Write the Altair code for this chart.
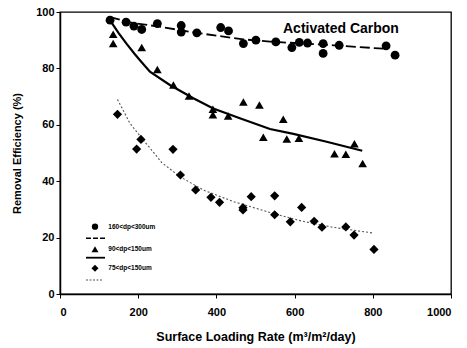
import altair as alt
import pandas as pd

# ---- data ----
c_x = [128, 169, 189, 209, 249, 310, 310, 350, 411, 431, 469, 501, 552, 593, 612, 633, 673, 673, 714, 834, 857]
c_y = [97.1, 96.4, 95.0, 93.8, 95.9, 95.2, 92.9, 92.6, 94.5, 93.3, 88.8, 90.0, 89.4, 87.4, 89.2, 89.0, 88.8, 85.3, 88.2, 88.0, 84.7]

t_x = [136, 136, 209, 249, 290, 330, 391, 391, 430, 469, 510, 520, 571, 580, 611, 702, 731, 753, 774]
t_y = [92.1, 88.8, 87.4, 79.6, 74.1, 70.2, 65.5, 63.6, 63.1, 68.1, 67.0, 55.6, 62.0, 55.0, 55.2, 49.7, 49.6, 53.3, 46.3]

d_x = [147, 196, 207, 289, 308, 347, 386, 408, 468, 468, 489, 549, 549, 589, 618, 650, 670, 731, 752, 803]
d_y = [63.7, 51.4, 54.8, 51.3, 42.2, 36.9, 34.3, 32.5, 30.6, 29.8, 34.5, 34.8, 28.1, 25.6, 30.7, 25.8, 23.7, 23.8, 20.9, 15.8]

# fitted curves
cf_x = [128, 190, 256, 330, 400, 469, 537, 600, 700, 836]
cf_y = [98.2, 96.0, 94.8, 93.0, 91.6, 90.3, 89.5, 89.0, 88.2, 86.9]

tf_x = [128, 150, 170, 190, 205, 230, 281, 341, 392, 460, 537, 597, 682, 773]
tf_y = [97.0, 92.5, 88.8, 85.3, 82.8, 78.8, 74.1, 69.4, 65.8, 62.3, 58.5, 56.8, 54.0, 50.8]

df_x = [147, 179, 213, 243, 260, 307, 366, 443, 537, 617, 700, 802]
df_y = [69.0, 60.5, 54.6, 49.6, 46.6, 41.6, 36.9, 32.8, 28.9, 25.9, 23.6, 21.6]

legend_labels = ["160<dp<300um", "90<dp<150um", "75<dp<150um"]
annotation = "Activated Carbon"
x_ticks = [0, 200, 400, 600, 800, 1000]
y_ticks = [0, 20, 40, 60, 80, 100]

FONT = "Liberation Sans"

circles = pd.DataFrame({"x": c_x, "y": c_y})
triangles = pd.DataFrame({"x": t_x, "y": t_y})
diamonds = pd.DataFrame({"x": d_x, "y": d_y})
cfit = pd.DataFrame({"x": cf_x, "y": cf_y})
tfit = pd.DataFrame({"x": tf_x, "y": tf_y})
dfit = pd.DataFrame({"x": df_x, "y": df_y})

xenc = alt.X("x:Q", scale=alt.Scale(domain=[0, 1000], nice=False),
             axis=alt.Axis(values=x_ticks, title="Surface Loading Rate (m³/m²/day)",
                           grid=False, tickSize=4, labelPadding=8, format="d",
                           labelFont=FONT, labelFontSize=11, labelFontWeight="bold",
                           titleFont=FONT, titleFontSize=12.5, titleFontWeight="bold",
                           titleY=42, titleBaseline="middle",
                           domainColor="black", domainWidth=1.5, tickColor="black",
                           labelColor="black", titleColor="black"))
yenc = alt.Y("y:Q", scale=alt.Scale(domain=[0, 100], nice=False),
             axis=alt.Axis(values=y_ticks, title="Removal Efficiency (%)",
                           grid=False, tickSize=4, labelPadding=2, format="d",
                           labelFont=FONT, labelFontSize=11, labelFontWeight="bold",
                           titleFont=FONT, titleFontSize=11, titleFontWeight="bold",
                           titleX=-42.5, titleY=141, titleAlign="center", titleBaseline="middle",
                           domainColor="black", domainWidth=1.5, tickColor="black",
                           labelColor="black", titleColor="black"))

c_line = alt.Chart(cfit).mark_line(color="black", strokeWidth=1.8, strokeDash=[10, 4]).encode(x=xenc, y=yenc)
t_line = alt.Chart(tfit).mark_line(color="black", strokeWidth=2.2).encode(x="x:Q", y="y:Q")
d_line = alt.Chart(dfit).mark_line(color="#555555", strokeWidth=1.1, strokeDash=[2, 2]).encode(x="x:Q", y="y:Q")

c_pts = alt.Chart(circles).mark_point(shape="circle", filled=True, color="black", size=78, opacity=1).encode(x="x:Q", y="y:Q")
t_pts = alt.Chart(triangles).mark_point(shape="triangle-up", filled=True, color="black", size=75, opacity=1).encode(x="x:Q", y="y:Q")
d_pts = alt.Chart(diamonds).mark_point(shape="diamond", filled=True, color="black", size=85, opacity=1).encode(x="x:Q", y="y:Q")

one = pd.DataFrame({"k": [0]})

ann = alt.Chart(one).mark_text(text=annotation, font=FONT, fontSize=14, fontWeight="bold",
                               align="left", baseline="middle", color="black").encode(
    x=alt.value(223), y=alt.value(16.5))

legend_layers = []
shapes = ["circle", "triangle-up", "diamond"]
sizes = [40, 48, 50]
sym_y = [214.7, 237.3, 256.3]
line_y = [226.3, 245.7, 268]
line_styles = [dict(color="black", strokeWidth=1.5, strokeDash=[5, 2]),
               dict(color="black", strokeWidth=1.8),
               dict(color="#555555", strokeWidth=1.1, strokeDash=[2, 1.5])]
line_x2 = [45, 45, 42.7]
for i in range(3):
    legend_layers.append(
        alt.Chart(one).mark_point(shape=shapes[i], filled=True, color="black", size=sizes[i], opacity=1)
        .encode(x=alt.value(35), y=alt.value(sym_y[i])))
    legend_layers.append(
        alt.Chart(one).mark_text(text=legend_labels[i], font="Liberation Sans Narrow, Liberation Sans",
                                 fontSize=6.5, fontWeight="bold", align="left", baseline="middle",
                                 color="black")
        .encode(x=alt.value(48.3), y=alt.value(sym_y[i])))
    legend_layers.append(
        alt.Chart(one).mark_rule(**line_styles[i])
        .encode(x=alt.value(26), x2=alt.value(line_x2[i]), y=alt.value(line_y[i])))

chart = alt.layer(c_line, t_line, d_line, c_pts, t_pts, d_pts, ann, *legend_layers).properties(
    width=391, height=282,
    autosize=alt.AutoSizeParams(type="none"),
    padding={"left": 60, "top": 12, "right": 16, "bottom": 54},
    background="white",
).configure_view(stroke="black", strokeWidth=1.3)

chart.save("out.html", embed_options={"renderer": "svg", "actions": False})
